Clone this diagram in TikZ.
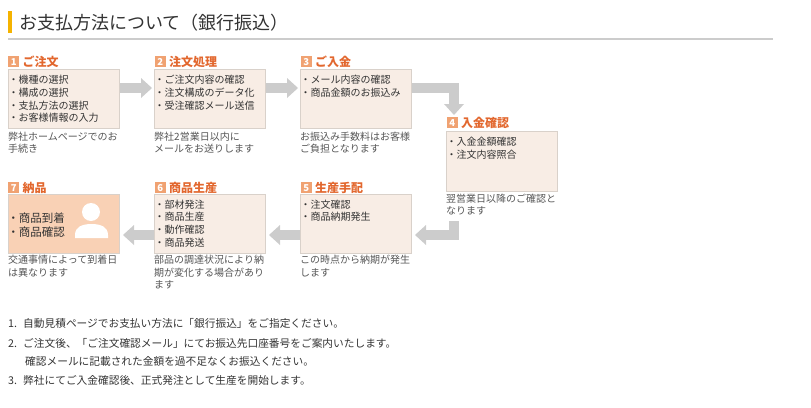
\documentclass[tikz,border=0pt]{standalone}
\usepackage{fontspec}
\setmainfont{Noto Sans CJK JP}
\usetikzlibrary{arrows.meta}
\definecolor{barorange}{HTML}{F5B300}
\definecolor{steporange}{HTML}{E2672E}
\definecolor{badgeorange}{HTML}{F0A272}
\definecolor{boxfill}{HTML}{F8EDE5}
\definecolor{boxline}{HTML}{D9D1CA}
\definecolor{lastfill}{HTML}{F9D1B5}
\definecolor{arrowgray}{HTML}{CCCCCC}
\definecolor{textgray}{HTML}{333333}
\definecolor{notegray}{HTML}{555555}
\begin{document}
\begin{tikzpicture}[x=1pt,y=-1pt,
    stepbox/.style={draw=boxline,fill=boxfill,line width=1pt,minimum width=111pt,minimum height=59pt,inner sep=0pt,anchor=north west},
    badge/.style={fill=badgeorange,text=white,font=\bfseries\fontsize{9.5}{10}\selectfont,minimum size=11pt,inner sep=0pt,anchor=north west},
    steptitle/.style={text=steporange,font=\bfseries\fontsize{12}{14}\selectfont,inner sep=0pt,anchor=west},
    item/.style={text=textgray,font=\fontsize{10}{12}\selectfont,inner sep=0pt,anchor=base west},
    note/.style={text=notegray,font=\fontsize{10}{12}\selectfont,inner sep=0pt,anchor=base west},
    list/.style={text=textgray,font=\fontsize{10.7}{12}\selectfont,inner sep=0pt,anchor=base west},
    flow/.style={draw=arrowgray,line width=10pt,line join=miter,-{Triangle[length=11pt,width=20pt,line width=0pt]}}]
\useasboundingbox (0,0) rectangle (811,407);
% heading
\fill[barorange] (8,11) rectangle (12,33);
\node[text=textgray,font=\fontsize{18}{20}\selectfont,inner sep=0pt,anchor=base west] (head) at (19,29.3) {お支払方法について（銀行振込）};
\fill[arrowgray] (8,38) rectangle (773,40);
% boxes
\node[stepbox] (s1) at (8,69) {};
\node[stepbox] (s2) at (154,69) {};
\node[stepbox] (s3) at (300,69) {};
\node[stepbox,minimum height=60pt] (s4) at (446,131) {};
\node[stepbox] (s5) at (300,194) {};
\node[stepbox] (s6) at (154,194) {};
\node[stepbox,fill=lastfill] (s7) at (8,194) {};
% numbers and titles
\foreach \n/\x/\y/\t in {1/8/56/ご注文,2/154.5/56/注文処理,3/300.5/56/ご入金,4/446.5/117/入金確認,5/300.5/182/生産手配,6/154.5/182/商品生産,7/8/182/納品}
{
  \node[badge] (b\n) at (\x,\y) {\n};
  \node[steptitle] (t\n) at ([xshift=3pt]b\n.east) {\t};
}
% box texts
\foreach \t [count=\i] in {機種の選択,構成の選択,支払方法の選択,お客様情報の入力}
  \node[item] (a\i) at (8.5,71.1+12.7*\i) {・\t};
\foreach \t [count=\i] in {ご注文内容の確認,注文構成のデータ化,受注確認メール送信}
  \node[item] (d\i) at (154.5,71.1+12.7*\i) {・\t};
\foreach \t [count=\i] in {メール内容の確認,商品金額のお振込み}
  \node[item] (e\i) at (300.5,71.1+12.7*\i) {・\t};
\foreach \t [count=\i] in {入金金額確認,注文内容照合}
  \node[item] (f\i) at (446.5,133.1+12.7*\i) {・\t};
\foreach \t [count=\i] in {注文確認,商品納期発生}
  \node[item] (g\i) at (300.5,195.1+12.9*\i) {・\t};
\foreach \t [count=\i] in {部材発注,商品生産,動作確認,商品発送}
  \node[item] (h\i) at (154.5,195.1+12.9*\i) {・\t};
\node[item,font=\fontsize{11.5}{14}\selectfont] (k1) at (7.3,222.4) {・商品到着};
\node[item,font=\fontsize{11.5}{14}\selectfont] (k2) at (7.3,236.4) {・商品確認};
% person
\fill[white] (91,212) circle[radius=9];
\fill[white] (75,238) -- (75,235) .. controls (75,227) and (82,224) .. (91.5,224) .. controls (101,224) and (108,227) .. (108,235) -- (108,238) -- cycle;
% notes under the boxes
\foreach \t [count=\i] in {弊社ホームページでのお,手続き}
  \node[note] (c1-\i) at (8,128.8+12*\i) {\t};
\foreach \t [count=\i] in {弊社2営業日以内に,メールをお送りします}
  \node[note] (c2-\i) at (154,128.8+12*\i) {\t};
\foreach \t [count=\i] in {お振込み手数料はお客様,ご負担となります}
  \node[note] (c3-\i) at (300,128.8+12*\i) {\t};
\foreach \t [count=\i] in {翌営業日以降のご確認と,なります}
  \node[note] (c4-\i) at (446,190.8+12*\i) {\t};
\foreach \t [count=\i] in {この時点から納期が発生,します}
  \node[note] (c5-\i) at (300,251.3+12.5*\i) {\t};
\foreach \t [count=\i] in {部品の調達状況により納,期が変化する場合があり,ます}
  \node[note] (c6-\i) at (154,251.3+12.5*\i) {\t};
\foreach \t [count=\i] in {交通事情によって到着日,は異なります}
  \node[note] (c7-\i) at (8,251.3+12.5*\i) {\t};
% arrows
\draw[flow] ([yshift=-19pt]s1.north east) -- ([yshift=-19pt,xshift=-2pt]s2.north west);
\draw[flow] ([yshift=-19pt]s2.north east) -- ([yshift=-19pt,xshift=-2pt]s3.north west);
\draw[flow] ([yshift=-19pt]s3.north east) -| ([xshift=8pt,yshift=16pt]s4.north west);
\draw[flow] ([xshift=8pt,yshift=-29pt]s4.south west) |- ([xshift=3pt,yshift=-41pt]s5.north east);
\draw[flow] ([yshift=-41pt]s5.north west) -- ([xshift=3pt,yshift=-41pt]s6.north east);
\draw[flow] ([yshift=-41pt]s6.north west) -- ([xshift=3pt,yshift=-41pt]s7.north east);
% list
\node[list] (n1) at (8,327) {1.};
\node[list] (l1) at (23,327) {自動見積ページでお支払い方法に「銀行振込」をご指定ください。};
\node[list] (n2) at (8,347) {2.};
\node[list] (l2) at (23,347) {ご注文後、「ご注文確認メール」にてお振込先口座番号をご案内いたします。};
\node[list] (l2b) at (25,365) {確認メールに記載された金額を過不足なくお振込ください。};
\node[list] (n3) at (8,384) {3.};
\node[list] (l3) at (23,384) {弊社にてご入金確認後、正式発注として生産を開始します。};
\end{tikzpicture}
\end{document}
